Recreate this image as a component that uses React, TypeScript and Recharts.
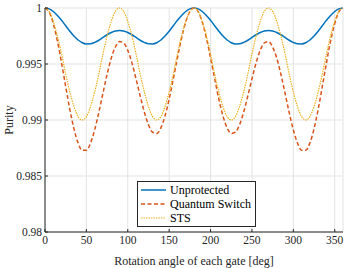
import React from 'react';
import {
  LineChart, Line, XAxis, YAxis, CartesianGrid, Legend
} from 'recharts';

// rotation angle in degrees, 5 deg steps
const angles = [
  0, 5, 10, 15, 20, 25, 30, 35, 40, 45, 50, 55, 60, 65, 70, 75, 80, 85, 90,
  95, 100, 105, 110, 115, 120, 125, 130, 135, 140, 145, 150, 155, 160, 165, 170, 175, 180,
  185, 190, 195, 200, 205, 210, 215, 220, 225, 230, 235, 240, 245, 250, 255, 260, 265, 270,
  275, 280, 285, 290, 295, 300, 305, 310, 315, 320, 325, 330, 335, 340, 345, 350, 355, 360,
];

const unprotected = [
  1.0, 0.99992, 0.99969, 0.99934, 0.9989, 0.99841, 0.99793, 0.99749, 0.99714, 0.9969,
  0.99679, 0.9968, 0.99693, 0.99712, 0.99737, 0.99761, 0.99781, 0.99795, 0.998,
  0.99795, 0.99781, 0.99761, 0.99737, 0.99712, 0.99693, 0.9968, 0.99679, 0.9969,
  0.99714, 0.99749, 0.99793, 0.99841, 0.9989, 0.99934, 0.99969, 0.99992, 1.0,
  0.99992, 0.99969, 0.99934, 0.9989, 0.99841, 0.99793, 0.99749, 0.99714, 0.9969,
  0.99679, 0.9968, 0.99693, 0.99712, 0.99737, 0.99761, 0.99781, 0.99795, 0.998,
  0.99795, 0.99781, 0.99761, 0.99737, 0.99712, 0.99693, 0.9968, 0.99679, 0.9969,
  0.99714, 0.99749, 0.99793, 0.99841, 0.9989, 0.99934, 0.99969, 0.99992, 1.0,
];

const quantumSwitch = [
  1.0, 0.99965, 0.99862, 0.99705, 0.9951, 0.99299, 0.99095, 0.98921, 0.98795, 0.9873,
  0.9873, 0.98794, 0.98912, 0.99067, 0.99239, 0.99408, 0.99551, 0.99652, 0.997,
  0.99689, 0.99622, 0.9951, 0.99367, 0.99214, 0.99071, 0.98958, 0.98891, 0.9888,
  0.9893, 0.99036, 0.99187, 0.99368, 0.99556, 0.99732, 0.99875, 0.99968, 1.0,
  0.99968, 0.99875, 0.99732, 0.99556, 0.99368, 0.99187, 0.99036, 0.9893, 0.9888,
  0.98891, 0.98958, 0.99071, 0.99214, 0.99367, 0.9951, 0.99622, 0.99689, 0.997,
  0.99652, 0.99551, 0.99408, 0.99239, 0.99067, 0.98912, 0.98794, 0.9873, 0.9873,
  0.98795, 0.98921, 0.99095, 0.99299, 0.9951, 0.99705, 0.99862, 0.99965, 1.0,
];

const sts = [
  1.0, 0.9997, 0.9988, 0.9975, 0.9959, 0.9941, 0.9925, 0.9912, 0.9903, 0.99,
  0.9903, 0.9912, 0.9925, 0.9941, 0.9959, 0.9975, 0.9988, 0.9997, 1.0,
  0.9997, 0.9988, 0.9975, 0.9959, 0.9941, 0.9925, 0.9912, 0.9903, 0.99,
  0.9903, 0.9912, 0.9925, 0.9941, 0.9959, 0.9975, 0.9988, 0.9997, 1.0,
  0.9997, 0.9988, 0.9975, 0.9959, 0.9941, 0.9925, 0.9912, 0.9903, 0.99,
  0.9903, 0.9912, 0.9925, 0.9941, 0.9959, 0.9975, 0.9988, 0.9997, 1.0,
  0.9997, 0.9988, 0.9975, 0.9959, 0.9941, 0.9925, 0.9912, 0.9903, 0.99,
  0.9903, 0.9912, 0.9925, 0.9941, 0.9959, 0.9975, 0.9988, 0.9997, 1.0,
];

const xTicks = [0, 50, 100, 150, 200, 250, 300, 350];
const yTicks = [0.98, 0.985, 0.99, 0.995, 1];

const data = angles.map((a, i) => ({
  angle: a,
  unprotected: unprotected[i],
  quantumSwitch: quantumSwitch[i],
  sts: sts[i],
}));

const FONT = 'Times New Roman, Liberation Serif, DejaVu Serif, serif';
const AXIS = '#262626';

const legendItems = [
  { name: 'Unprotected', color: '#0072BD', dash: undefined, width: 1.5 },
  { name: 'Quantum Switch', color: '#D95319', dash: '4 2.5', width: 1.5 },
  { name: 'STS', color: '#EDB120', dash: '1.5 1', width: 1.2 },
];

const LegendBox = () => (
  <div style={{
    border: `1px solid ${AXIS}`, background: '#fff', padding: '1px 4px 1px 2px',
    fontFamily: FONT, fontSize: 12, color: '#000', lineHeight: '14px',
  }}>
    {legendItems.map((it) => (
      <div key={it.name} style={{ display: 'flex', alignItems: 'center', whiteSpace: 'nowrap' }}>
        <svg width={27} height={14} style={{ marginRight: 3 }}>
          <line x1={1} x2={26} y1={7} y2={7} stroke={it.color} strokeWidth={it.width} strokeDasharray={it.dash} />
        </svg>
        <span>{it.name}</span>
      </div>
    ))}
  </div>
);

export default function App() {
  return (
    <div style={{ position: 'absolute', left: 0, top: 0, background: '#fff', fontFamily: FONT }}>
      <LineChart width={357} height={268} data={data} margin={{ top: 8, right: 14, left: 0, bottom: 0 }} style={{ fontFamily: FONT }}>
        <CartesianGrid stroke="#e3e3e3" strokeWidth={1} />
        <XAxis
          dataKey="angle" type="number" domain={[0, 360]} ticks={xTicks} height={36}
          axisLine={{ stroke: AXIS }} tickLine={{ stroke: AXIS }} tickSize={-3} tickMargin={7}
          tick={{ fill: AXIS, fontSize: 11.5, fontFamily: FONT }}
          label={{ value: 'Rotation angle of each gate [deg]', position: 'insideBottom', offset: 3, fill: AXIS, fontSize: 12, fontFamily: FONT }}
        />
        <XAxis
          xAxisId="top" orientation="top" type="number" domain={[0, 360]} ticks={xTicks} height={0}
          axisLine={{ stroke: AXIS }} tickLine={{ stroke: AXIS }} tickSize={-3} tickFormatter={() => ''}
        />
        <YAxis
          type="number" domain={[0.98, 1]} ticks={yTicks} width={45}
          axisLine={{ stroke: AXIS }} tickLine={{ stroke: AXIS }} tickSize={-3} tickMargin={6}
          tickFormatter={(v: number) => String(v)}
          tick={{ fill: AXIS, fontSize: 11.5, fontFamily: FONT }}
          label={{ value: 'Purity', angle: -90, position: 'insideLeft', offset: 9, fill: AXIS, fontSize: 12, fontFamily: FONT, style: { textAnchor: 'middle' } }}
        />
        <YAxis
          yAxisId="right" orientation="right" type="number" domain={[0.98, 1]} ticks={yTicks} width={0}
          axisLine={{ stroke: AXIS }} tickLine={{ stroke: AXIS }} tickSize={-3} tickFormatter={() => ''}
        />
        <Legend
          layout="vertical" align="center" verticalAlign="middle"
          content={<LegendBox />}
          wrapperStyle={{ left: 137, top: 181, width: 'auto' }}
        />
        <Line type="monotone" dataKey="unprotected" name="Unprotected" stroke="#0072BD" strokeWidth={1.5} dot={false} isAnimationActive={false} />
        <Line type="monotone" dataKey="quantumSwitch" name="Quantum Switch" stroke="#D95319" strokeWidth={1.5} strokeDasharray="4 2.5" dot={false} isAnimationActive={false} />
        <Line type="monotone" dataKey="sts" name="STS" stroke="#EDB120" strokeWidth={1.2} strokeDasharray="1.5 1" dot={false} isAnimationActive={false} />
      </LineChart>
    </div>
  );
}
